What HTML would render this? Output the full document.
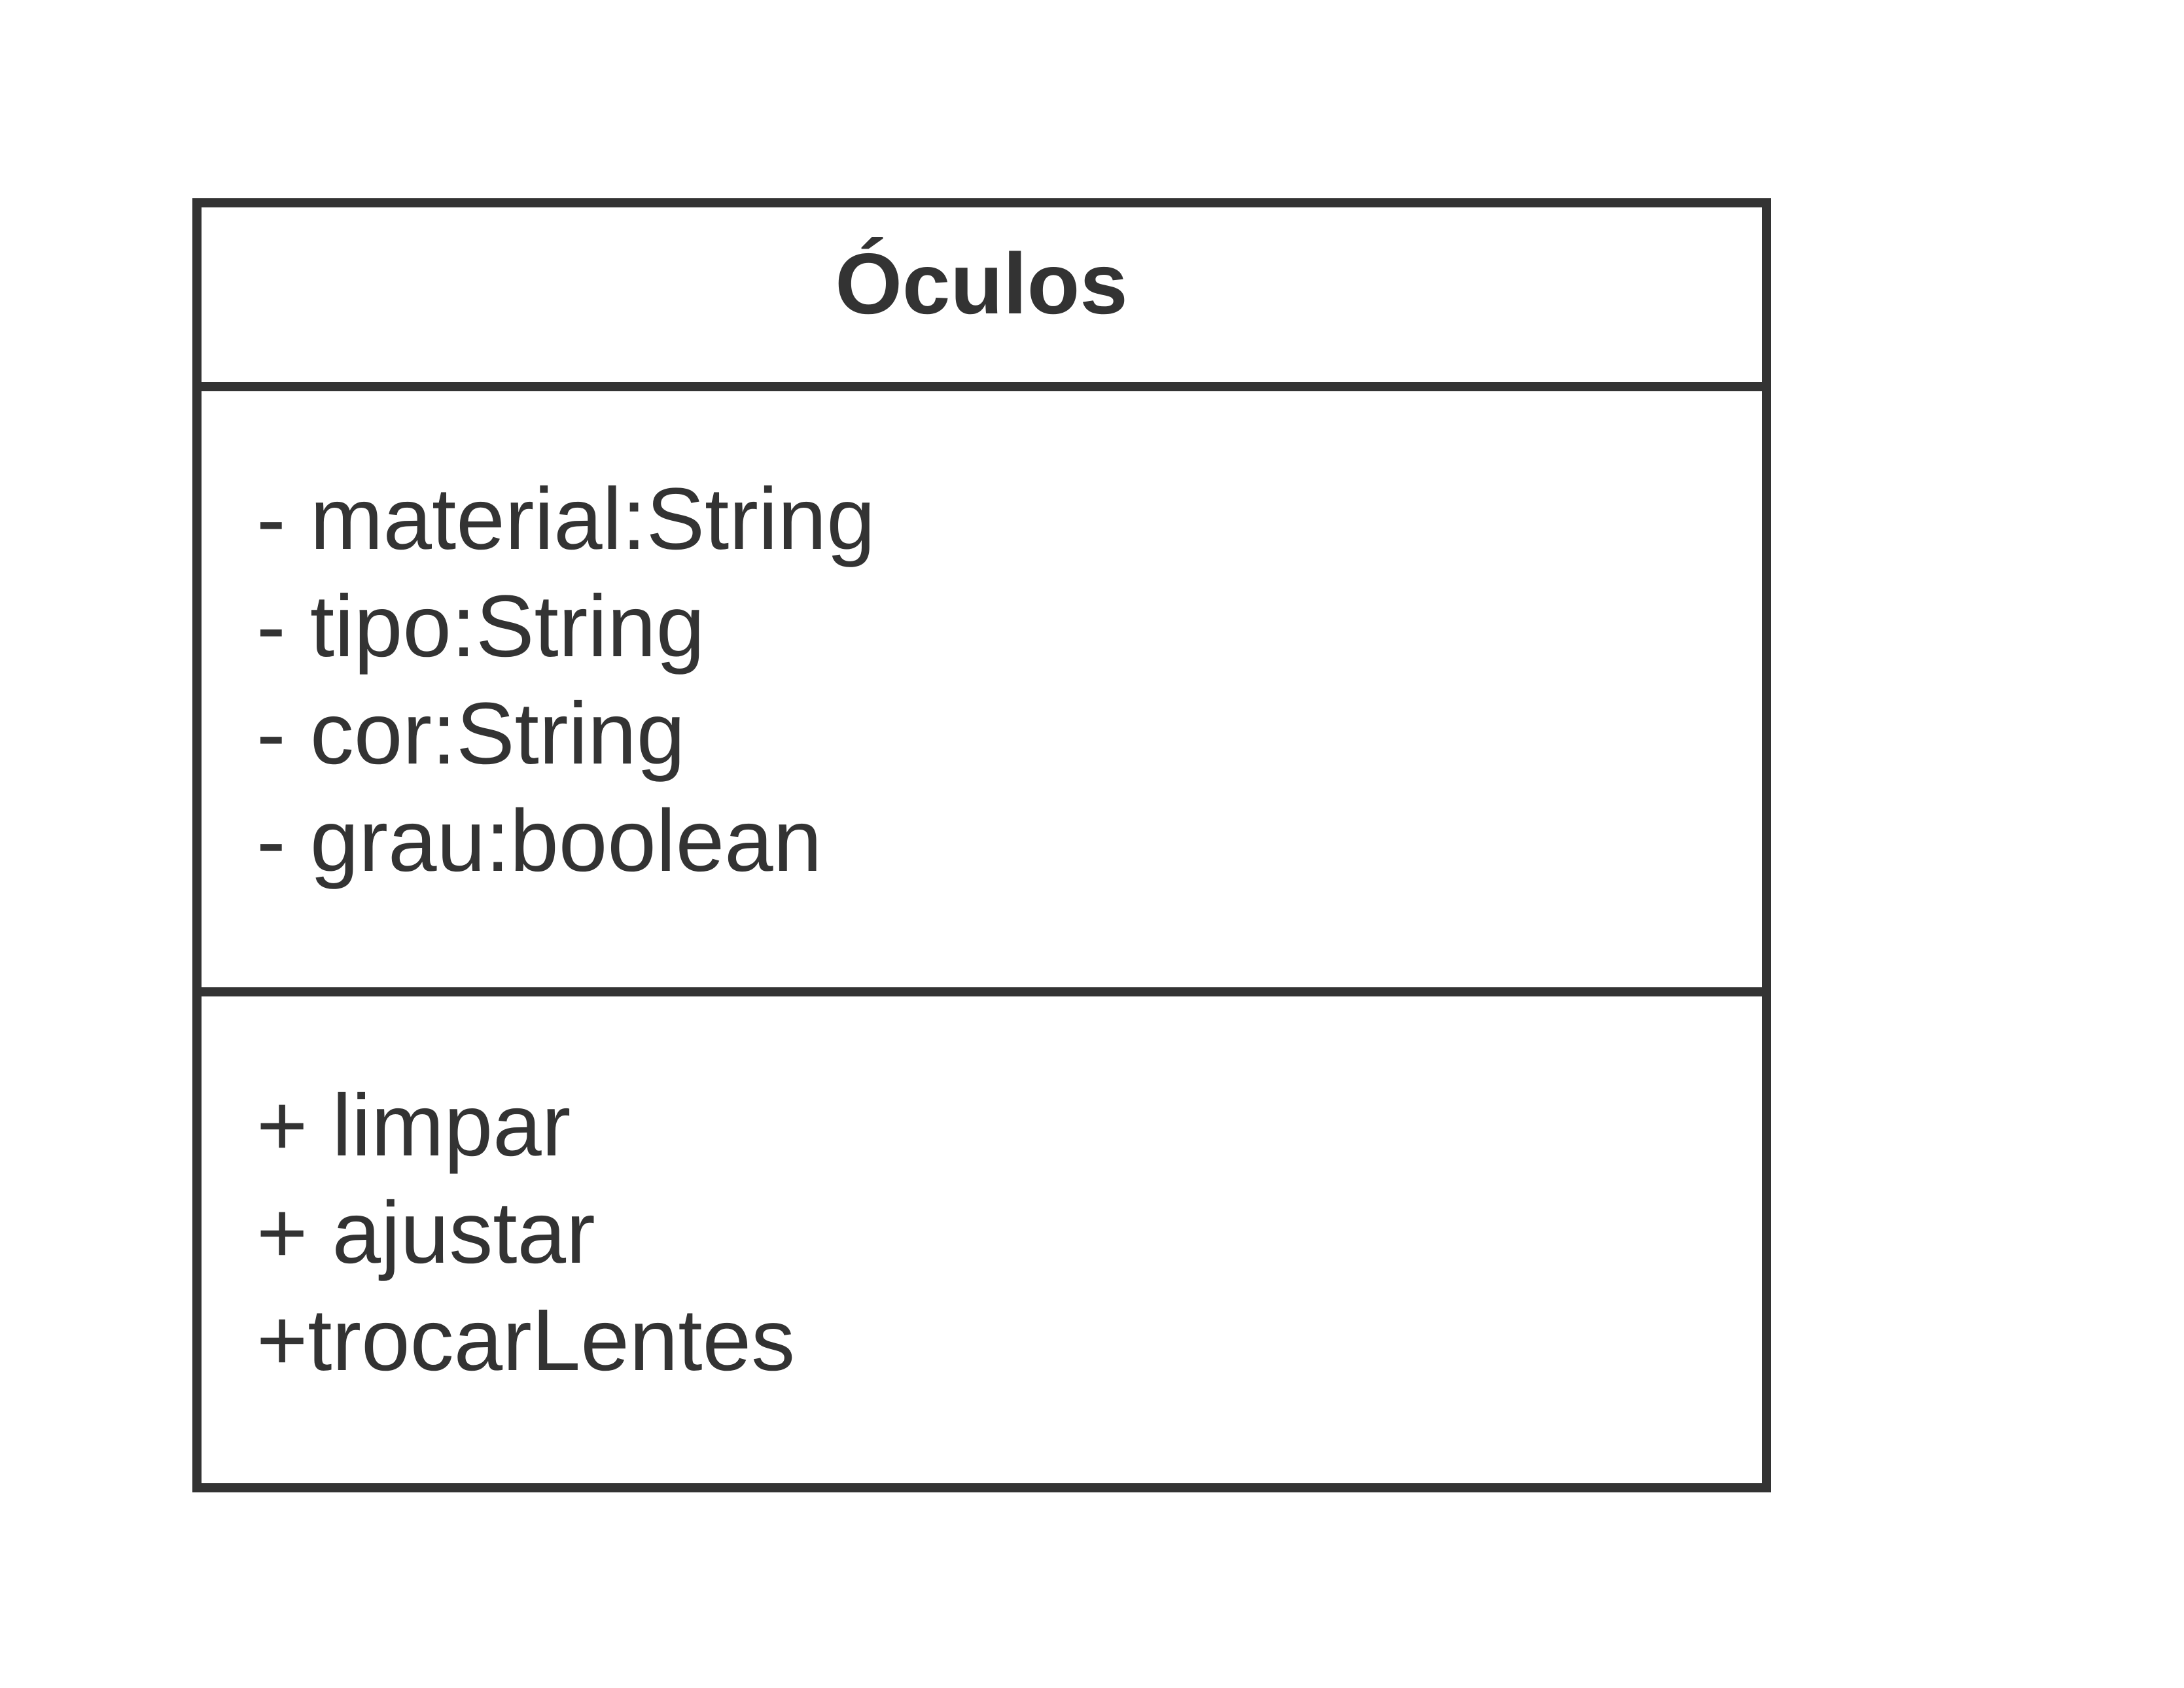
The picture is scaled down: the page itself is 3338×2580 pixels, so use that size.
<!DOCTYPE html>
<html><head><meta charset="utf-8"><style>
html,body{margin:0;padding:0;background:#fff;}
svg{display:block;}
text{font-family:"Liberation Sans",sans-serif;fill:#333;}
</style></head><body>
<svg width="3338" height="2580" viewBox="0 0 3338 2580">
<rect x="0" y="0" width="3338" height="2580" fill="#fff"/>
<rect x="301" y="310" width="2399" height="1964" fill="none" stroke="#333" stroke-width="14"/>
<line x1="301" y1="591" x2="2700" y2="591" stroke="#333" stroke-width="14"/>
<line x1="301" y1="1516" x2="2700" y2="1516" stroke="#333" stroke-width="14"/>
<text x="1500" y="479" text-anchor="middle" font-size="132" font-weight="bold">Óculos</text>
<g font-size="134">
<text x="392" y="839">- material:String</text>
<text x="392" y="1003">- tipo:String</text>
<text x="392" y="1167">- cor:String</text>
<text x="392" y="1331">- grau:boolean</text>
</g>
<g font-size="134">
<text x="392" y="1766">+ limpar</text>
<text x="392" y="1930">+ ajustar</text>
<text x="392" y="2094">+trocarLentes</text>
</g>
</svg>
</body></html>
